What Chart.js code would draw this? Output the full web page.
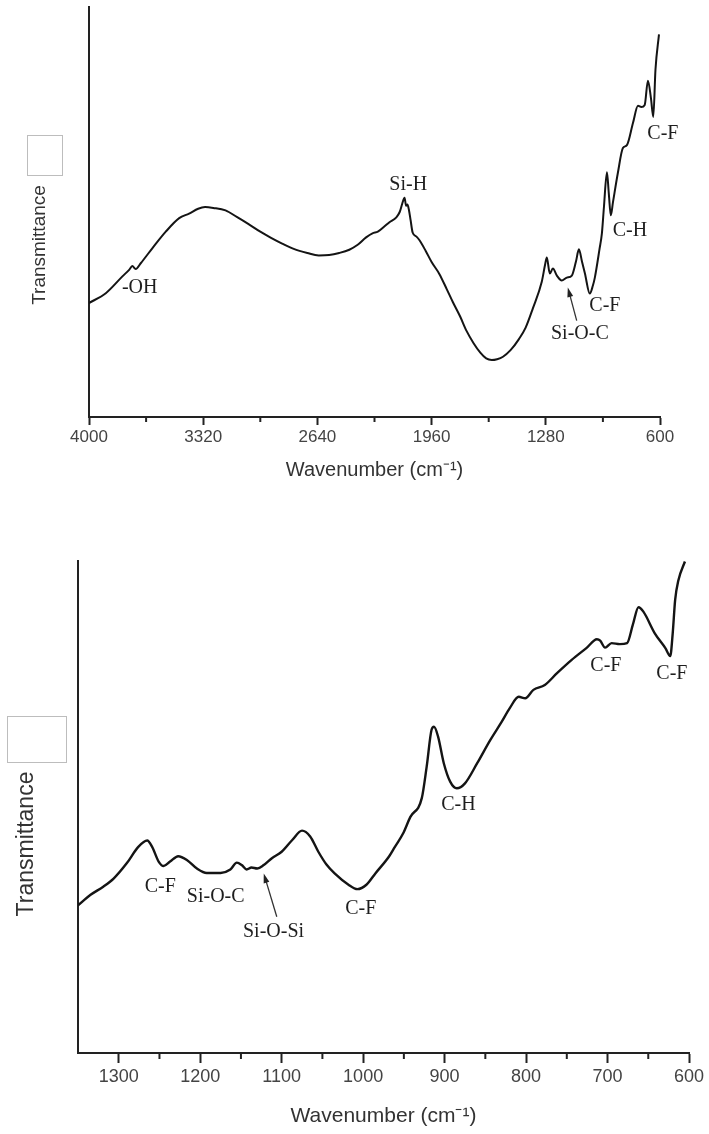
<!DOCTYPE html>
<html lang="en">
<head>
    <meta charset="UTF-8">
    <title>FTIR spectra</title>
    <script src="https://cdn.jsdelivr.net/npm/chart.js"></script>
    <style>
        body {
            margin: 0;
            background: #fff;
        }
        .panel {
            position: absolute;
            left: 0;
            width: 709px;
        }
        #topPanel { top: 0; height: 490px; }
        #bottomPanel { top: 500px; height: 634px; }
    </style>
</head>
<body>
    <div class="panel" id="topPanel"><canvas id="fullSpectrum"></canvas></div>
    <div class="panel" id="bottomPanel"><canvas id="fingerprint"></canvas></div>

    <script>
        // full range spectrum, 4000-600 cm-1
        const topWavenumber = [4000, 3900, 3801, 3761, 3742, 3722, 3692, 3622, 3543, 3463,
            3404, 3350, 3309, 3260, 3187, 3120, 3052, 2980, 2916, 2850,
            2781, 2700, 2632, 2570, 2510, 2450, 2400, 2350, 2312, 2280,
            2240, 2211, 2170, 2150, 2135, 2121, 2112, 2104, 2095, 2085,
            2073, 2050, 2032, 1995, 1960, 1914, 1870, 1833, 1790, 1752,
            1710, 1670, 1635, 1602, 1570, 1535, 1490, 1440, 1400, 1357,
            1304, 1285, 1274, 1256, 1238, 1214, 1185, 1155, 1125, 1100,
            1083, 1065, 1047, 1018, 1000, 988, 960, 946, 934, 916,
            905, 893, 880, 851, 821, 797, 761, 731, 711, 691,
            672, 654, 640, 627, 606];
        const topTransmittance = [27.8, 30.2, 34.3, 35.9, 36.8, 36.1, 37.5, 41.2, 45.2, 48.5,
            49.6, 50.8, 51.2, 51.0, 50.4, 48.8, 47.1, 45.2, 43.7, 42.3,
            41.0, 40.0, 39.4, 39.5, 40.0, 40.8, 42.0, 43.8, 44.8, 45.2,
            46.5, 47.5, 48.7, 50.0, 52.0, 53.5, 51.5, 51.8, 50.5, 48.0,
            45.0, 44.0, 43.1, 40.5, 37.8, 34.9, 31.2, 28.0, 24.5, 21.0,
            18.0, 15.7, 14.3, 13.9, 14.1, 14.7, 16.3, 19.0, 21.8, 26.5,
            33.0, 37.0, 38.9, 35.0, 36.2, 34.5, 33.3, 34.0, 34.5, 38.0,
            40.9, 38.0, 35.0, 30.1, 32.0, 34.0, 41.0, 44.8, 51.1, 59.7,
            54.6, 49.2, 52.4, 59.5, 65.6, 66.3, 71.7, 75.9, 75.6, 76.1,
            82.0, 77.8, 73.2, 84.7, 93.3];
        const topTicks = [4000, 3320, 2640, 1960, 1280, 600];
        const topMinorTicks = [3660, 2980, 2300, 1620, 940];
        const topBands = ['-OH', 'Si-H', 'Si-O-C', 'C-F', 'C-H', 'C-F'];
        const topBandAt = [[3698, 31.6], [2099, 56.6], [1077, 20.3], [928, 27.2], [779, 45.5], [583, 69.2]];

        // fingerprint region, 1350-600 cm-1
        const bottomWavenumber = [1350, 1335, 1319, 1306, 1290, 1276, 1265, 1259, 1251, 1245,
            1237, 1227, 1216, 1204, 1192, 1175, 1163, 1155, 1149, 1143,
            1137, 1130, 1122, 1112, 1100, 1087, 1075, 1065, 1055, 1045,
            1035, 1018, 1007, 996, 985, 968, 961, 951, 942, 928,
            922, 916, 913, 908, 901, 893, 885, 875, 860, 844,
            830, 820, 809, 801, 791, 777, 762, 744, 726, 713,
            709, 703, 695, 685, 676, 669, 662, 656, 642, 629,
            623, 620, 617, 613, 605];
        const bottomTransmittance = [30.0, 32.1, 33.8, 35.5, 38.6, 41.9, 43.2, 41.9, 38.9, 38.0,
            38.9, 40.0, 39.2, 37.5, 36.6, 36.6, 37.3, 38.7, 38.2, 37.3,
            37.7, 37.5, 38.2, 39.6, 40.9, 43.3, 45.2, 44.0, 40.9, 38.3,
            36.5, 34.2, 33.3, 34.2, 36.5, 40.0, 41.9, 44.6, 48.0, 51.8,
            58.2, 65.7, 66.3, 64.3, 58.9, 55.1, 53.8, 54.8, 58.9, 63.6,
            67.3, 70.1, 72.4, 72.1, 73.8, 74.8, 77.2, 79.9, 82.3, 84.1,
            83.8, 82.4, 83.3, 83.1, 83.3, 87.0, 90.6, 89.7, 85.3, 82.3,
            80.7, 85.3, 92.1, 96.1, 99.9];
        const bottomTicks = [1300, 1200, 1100, 1000, 900, 800, 700, 600];
        const bottomMinorTicks = [1250, 1150, 1050, 950, 850, 750, 650];
        const bottomBands = ['C-F', 'Si-O-C', 'Si-O-Si', 'C-F', 'C-H', 'C-F', 'C-F'];
        const bottomBandAt = [[1249, 33.7], [1181, 31.8], [1110, 24.7], [1003, 29.4], [883, 50.4], [702, 78.7], [621, 77.1]];

        const sans = 'Arial, "Liberation Sans", sans-serif';
        const serif = '"Times New Roman", "Liberation Serif", serif';

        // minor ticks, band names, arrows and the y title
        const spectrumMarks = {
            id: 'spectrumMarks',
            afterDraw(chart, args, o) {
                const { ctx, chartArea } = chart;
                const x = chart.scales.x, y = chart.scales.y;
                ctx.save();

                ctx.strokeStyle = '#222';
                ctx.lineWidth = 2;
                o.minor.forEach(v => {
                    const px = x.getPixelForValue(v);
                    ctx.beginPath();
                    ctx.moveTo(px, chartArea.bottom);
                    ctx.lineTo(px, chartArea.bottom + o.minorLen);
                    ctx.stroke();
                });

                ctx.fillStyle = '#1e1e1e';
                ctx.font = '20px ' + serif;
                ctx.textAlign = 'center';
                ctx.textBaseline = 'middle';
                o.bands.forEach((name, i) => {
                    ctx.fillText(name, x.getPixelForValue(o.bandAt[i][0]), y.getPixelForValue(o.bandAt[i][1]));
                });

                // arrow from the label up to the shoulder
                const [tail, head] = o.arrow;
                const x0 = x.getPixelForValue(tail[0]), y0 = y.getPixelForValue(tail[1]);
                const x1 = x.getPixelForValue(head[0]), y1 = y.getPixelForValue(head[1]);
                const ang = Math.atan2(y1 - y0, x1 - x0);
                ctx.strokeStyle = '#333';
                ctx.lineWidth = 1.3;
                ctx.beginPath();
                ctx.moveTo(x0, y0);
                ctx.lineTo(x1 - 7 * Math.cos(ang), y1 - 7 * Math.sin(ang));
                ctx.stroke();
                ctx.fillStyle = '#222';
                ctx.beginPath();
                ctx.moveTo(x1, y1);
                ctx.lineTo(x1 - 10 * Math.cos(ang - 0.3), y1 - 10 * Math.sin(ang - 0.3));
                ctx.lineTo(x1 - 10 * Math.cos(ang + 0.3), y1 - 10 * Math.sin(ang + 0.3));
                ctx.closePath();
                ctx.fill();

                // empty legend box
                ctx.strokeStyle = '#bdbdbd';
                ctx.lineWidth = 1;
                ctx.strokeRect(o.box[0] + 0.5, o.box[1] + 0.5, o.box[2], o.box[3]);

                ctx.fillStyle = '#333';
                ctx.font = o.yTitleSize + 'px ' + sans;
                ctx.translate(o.yTitlePos[0], o.yTitlePos[1]);
                ctx.rotate(-Math.PI / 2);
                ctx.fillText('Transmittance', 0, 0);
                ctx.restore();
            }
        };

        function spectrumChart(id, s) {
            return new Chart(document.getElementById(id), {
                type: 'line',
                data: {
                    datasets: [{
                        data: s.wn.map((w, i) => ({ x: w, y: s.t[i] })),
                        borderColor: '#141414',
                        borderWidth: s.lineWidth,
                        pointRadius: 0,
                        cubicInterpolationMode: 'monotone',
                        borderJoinStyle: 'round',
                        fill: false
                    }]
                },
                options: {
                    responsive: true,
                    maintainAspectRatio: false,
                    animation: false,
                    layout: { padding: s.padding },
                    plugins: {
                        legend: { display: false },
                        tooltip: { enabled: false },
                        spectrumMarks: s.marks
                    },
                    scales: {
                        x: {
                            type: 'linear',
                            reverse: true,
                            min: s.min,
                            max: s.max,
                            afterBuildTicks: scale => { scale.ticks = s.ticks.map(v => ({ value: v })); },
                            afterFit: scale => { scale.height = s.xHeight; },
                            ticks: {
                                autoSkip: false,
                                maxRotation: 0,
                                padding: s.tickPad,
                                color: '#444',
                                font: { family: sans, size: s.tickSize },
                                callback: v => String(v)
                            },
                            grid: {
                                drawOnChartArea: false,
                                tickLength: s.majorLen,
                                tickWidth: 2,
                                tickColor: '#222'
                            },
                            border: { display: true, color: '#222', width: 2 },
                            title: {
                                display: true,
                                text: 'Wavenumber (cm\u207B\u00B9)',
                                color: '#333',
                                font: { family: sans, size: s.xTitleSize },
                                padding: { top: 0, bottom: s.xTitlePad }
                            }
                        },
                        y: {
                            min: 0,
                            max: 100,
                            afterFit: scale => { scale.width = s.yWidth; },
                            ticks: { display: false },
                            grid: { display: false, drawTicks: false },
                            border: { display: true, color: '#222', width: 2 }
                        }
                    }
                },
                plugins: [spectrumMarks]
            });
        }

        spectrumChart('fullSpectrum', {
            wn: topWavenumber, t: topTransmittance, ticks: topTicks,
            min: 600, max: 4000, lineWidth: 2,
            padding: { top: 7, right: 49, left: 0, bottom: 0 },
            yWidth: 89, xHeight: 73, majorLen: 8, tickPad: 2, tickSize: 17,
            xTitleSize: 20, xTitlePad: 8,
            marks: {
                minor: topMinorTicks, minorLen: 5,
                bands: topBands, bandAt: topBandAt,
                arrow: [[1096, 23.5], [1149, 31.6]],
                box: [27, 135, 35, 40],
                yTitlePos: [40, 245], yTitleSize: 19
            }
        });

        spectrumChart('fingerprint', {
            wn: bottomWavenumber, t: bottomTransmittance, ticks: bottomTicks,
            min: 600, max: 1350, lineWidth: 2.4,
            padding: { top: 61, right: 20, left: 0, bottom: 0 },
            yWidth: 78, xHeight: 81, majorLen: 10, tickPad: 3, tickSize: 18,
            xTitleSize: 21, xTitlePad: 5,
            marks: {
                minor: bottomMinorTicks, minorLen: 6,
                bands: bottomBands, bandAt: bottomBandAt,
                arrow: [[1106, 27.7], [1122, 36.5]],
                box: [7, 216, 59, 46],
                yTitlePos: [27, 344], yTitleSize: 23
            }
        });
    </script>
</body>
</html>
